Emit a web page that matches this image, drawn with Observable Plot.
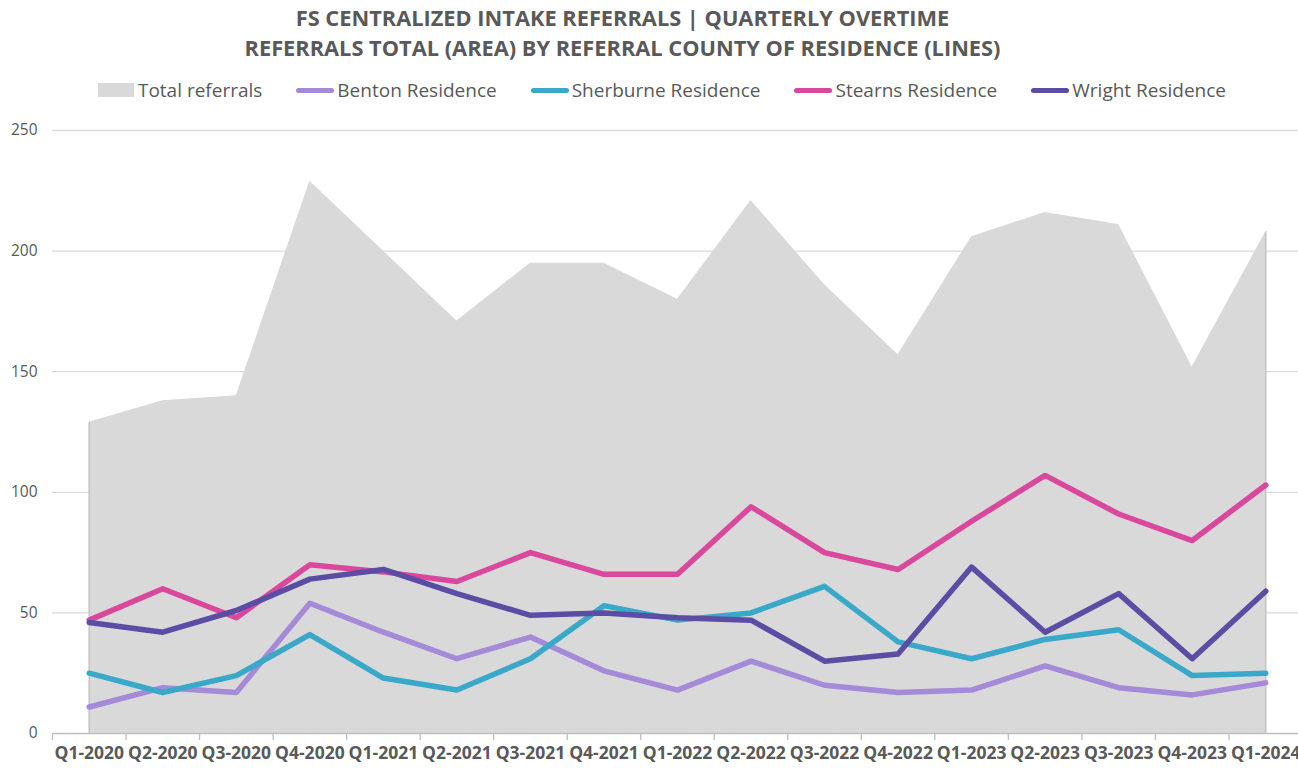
<!DOCTYPE html>
<html>
<head>
<meta charset="utf-8">
<script src="https://cdn.jsdelivr.net/npm/d3@7"></script>
<script src="https://cdn.jsdelivr.net/npm/@observablehq/plot@0.6"></script>
<style>
  html, body { margin: 0; padding: 0; background: #fff; }
  body { width: 1298px; height: 771px; overflow: hidden; position: relative; font-family: "Open Sans", "DejaVu Sans", sans-serif; color: #595959; }
  #title { position: absolute; left: 0; top: 3px; width: 1298px; padding-right: 53px; box-sizing: border-box; text-align: center; font-weight: 700; font-size: 21.8px; line-height: 30px; }
  #legend { position: absolute; left: 0; top: 77px; width: 1298px; display: flex; justify-content: center; align-items: center; font-size: 19px; padding-left: 26px; box-sizing: border-box; }
  .item { display: flex; align-items: center; margin: 0 17px; }
  .sw-area { width: 36px; height: 14px; background: #d9d9d9; margin-right: 4px; }
  .sw-line { width: 38px; height: 5px; border-radius: 3px; margin-right: 3px; }
  #chart { position: absolute; left: 0; top: 110px; }
</style>
</head>
<body>
<div id="title"></div>
<div id="legend"></div>
<div id="chart"></div>
<script>
const titleLines = [
  "FS CENTRALIZED INTAKE REFERRALS | QUARTERLY OVERTIME",
  "REFERRALS TOTAL (AREA) BY REFERRAL COUNTY OF RESIDENCE (LINES)"
];
const quarters = ["Q1-2020","Q2-2020","Q3-2020","Q4-2020","Q1-2021","Q2-2021","Q3-2021","Q4-2021","Q1-2022","Q2-2022","Q3-2022","Q4-2022","Q1-2023","Q2-2023","Q3-2023","Q4-2023","Q1-2024"];
const totalReferrals = [129,138,140,229,200,171,195,195,180,221,186,157,206,216,211,152,208];
const benton    = [11,19,17,54,42,31,40,26,18,30,20,17,18,28,19,16,21];
const sherburne = [25,17,24,41,23,18,31,53,47,50,61,38,31,39,43,24,25];
const stearns   = [47,60,48,70,67,63,75,66,66,94,75,68,88,107,91,80,103];
const wright    = [46,42,51,64,68,58,49,50,48,47,30,33,69,42,58,31,59];
const seriesNames = ["Benton Residence","Sherburne Residence","Stearns Residence","Wright Residence"];
const seriesColors = ["#a58ad8","#3aa8c9","#d9489c","#5b4ca4"];
const totalName = "Total referrals";
const yTicks = [0,50,100,150,200,250];

document.getElementById("title").innerHTML = titleLines.map(t => `<div>${t}</div>`).join("");
const legend = document.getElementById("legend");
legend.innerHTML = `<div class="item"><div class="sw-area"></div><span>${totalName}</span></div>` +
  seriesNames.map((n,i) => `<div class="item"><div class="sw-line" style="background:${seriesColors[i]}"></div><span>${n}</span></div>`).join("");

const seriesValues = [benton, sherburne, stearns, wright];
const lineData = seriesNames.flatMap((name, si) => seriesValues[si].map((v, i) => ({q: quarters[i], v, s: name})));
const totalData = quarters.map((q, i) => ({q, v: totalReferrals[i]}));

const W = 1298, H = 661, ML = 52, MR = -4;
const step = (W - ML - MR) / quarters.length;

const chart = Plot.plot({
  width: W, height: H,
  marginLeft: ML, marginRight: MR, marginTop: 20, marginBottom: 38,
  style: { fontFamily: '"Open Sans", sans-serif', color: "#595959", background: "transparent", overflow: "visible" },
  x: { type: "point", domain: quarters, padding: 0.5, round: false, label: null },
  y: { domain: [0, 250], label: null },
  color: { domain: seriesNames, range: seriesColors },
  marks: [
    Plot.ruleY(yTicks.filter(d => d > 0), { stroke: "#d9d9d9", strokeWidth: 1.3 }),
    Plot.areaY(totalData, { x: "q", y: "v", fill: "#d9d9d9", curve: "linear",
      style: "filter: drop-shadow(0px 0px 1.5px rgba(0,0,0,0.25))" }),
    Plot.ruleX([totalData[0], totalData[totalData.length - 1]], { x: "q", y1: 0, y2: "v", stroke: "#c4c4c4", strokeWidth: 1.5 }),
    Plot.ruleY([0], { stroke: "#bfbfbf", strokeWidth: 1.5 }),
    Plot.ruleX(quarters, { x: d => d, dx: -step / 2, y1: 0, y2: 0, insetBottom: -7, stroke: "#bfbfbf", strokeWidth: 1.3 }),
    Plot.line(lineData, { x: "q", y: "v", z: "s", stroke: "s", strokeWidth: 5.5, strokeLinejoin: "round", strokeLinecap: "round", curve: "linear",
      style: "filter: drop-shadow(1px 2px 1.5px rgba(0,0,0,0.35))" }),
    Plot.axisY({ ticks: yTicks, tickSize: 0, tickPadding: 15, fontSize: 15.5 }),
    Plot.axisX({ tickSize: 0, tickPadding: 13, fontSize: 17.5, fontWeight: "bold" })
  ]
});
document.getElementById("chart").appendChild(chart);
</script>
</body>
</html>
